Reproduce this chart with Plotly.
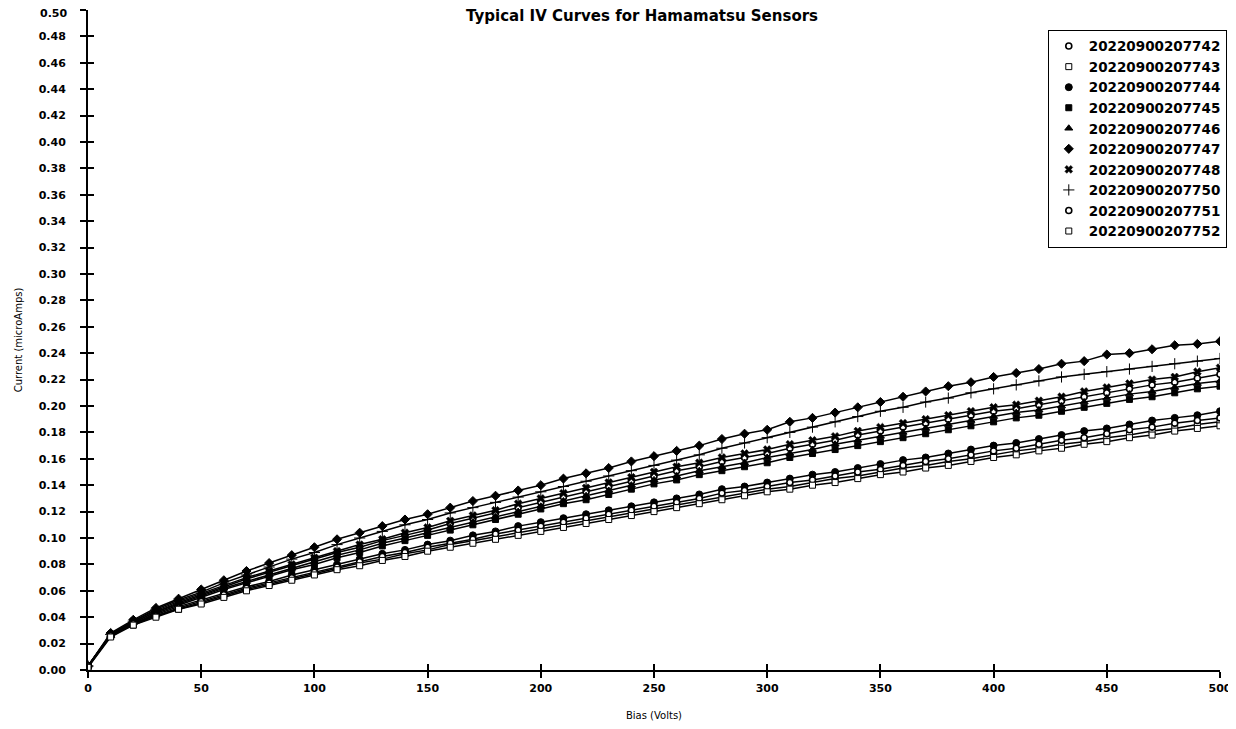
import plotly.graph_objects as go

bias = [0, 10, 20, 30, 40, 50, 60, 70, 80, 90, 100, 110, 120, 130, 140, 150, 160, 170, 180, 190,
        200, 210, 220, 230, 240, 250, 260, 270, 280, 290, 300, 310, 320, 330, 340, 350, 360, 370,
        380, 390, 400, 410, 420, 430, 440, 450, 460, 470, 480, 490, 500]

s742 = [0.003, 0.027, 0.036, 0.044, 0.051, 0.057, 0.063, 0.069, 0.074, 0.079, 0.084, 0.089, 0.093,
        0.098, 0.102, 0.106, 0.111, 0.115, 0.119, 0.123, 0.127, 0.131, 0.135, 0.139, 0.143, 0.147,
        0.151, 0.154, 0.158, 0.161, 0.164, 0.168, 0.171, 0.174, 0.178, 0.181, 0.184, 0.187, 0.190,
        0.193, 0.196, 0.198, 0.201, 0.204, 0.207, 0.210, 0.213, 0.216, 0.218, 0.221, 0.224]
s743 = [0.002, 0.026, 0.034, 0.041, 0.046, 0.051, 0.056, 0.061, 0.065, 0.069, 0.073, 0.077, 0.081,
        0.084, 0.088, 0.091, 0.095, 0.098, 0.101, 0.104, 0.107, 0.110, 0.113, 0.116, 0.119, 0.122,
        0.125, 0.128, 0.131, 0.134, 0.137, 0.139, 0.142, 0.145, 0.147, 0.150, 0.153, 0.155, 0.158,
        0.160, 0.163, 0.166, 0.168, 0.171, 0.173, 0.176, 0.178, 0.181, 0.183, 0.186, 0.188]
s744 = [0.003, 0.026, 0.035, 0.042, 0.048, 0.053, 0.058, 0.063, 0.067, 0.072, 0.076, 0.080, 0.084,
        0.088, 0.091, 0.095, 0.098, 0.102, 0.105, 0.109, 0.112, 0.115, 0.118, 0.121, 0.124, 0.127,
        0.130, 0.133, 0.137, 0.139, 0.142, 0.145, 0.148, 0.150, 0.153, 0.156, 0.159, 0.161, 0.164,
        0.167, 0.170, 0.172, 0.175, 0.178, 0.181, 0.183, 0.186, 0.189, 0.191, 0.193, 0.196]
s745 = [0.003, 0.026, 0.035, 0.043, 0.049, 0.055, 0.061, 0.066, 0.071, 0.076, 0.080, 0.085, 0.089,
        0.094, 0.098, 0.102, 0.106, 0.110, 0.114, 0.118, 0.122, 0.126, 0.129, 0.133, 0.137, 0.141,
        0.144, 0.148, 0.151, 0.154, 0.157, 0.161, 0.164, 0.167, 0.170, 0.173, 0.176, 0.179, 0.182,
        0.185, 0.188, 0.191, 0.193, 0.196, 0.199, 0.202, 0.205, 0.207, 0.210, 0.213, 0.215]
s746 = [0.003, 0.026, 0.036, 0.044, 0.050, 0.056, 0.062, 0.067, 0.072, 0.077, 0.082, 0.087, 0.091,
        0.096, 0.100, 0.104, 0.108, 0.112, 0.116, 0.120, 0.124, 0.128, 0.132, 0.136, 0.140, 0.144,
        0.147, 0.151, 0.154, 0.157, 0.161, 0.164, 0.167, 0.171, 0.174, 0.177, 0.180, 0.183, 0.186,
        0.189, 0.192, 0.195, 0.197, 0.200, 0.203, 0.206, 0.209, 0.211, 0.214, 0.217, 0.219]
s747 = [0.003, 0.028, 0.038, 0.047, 0.054, 0.061, 0.068, 0.075, 0.081, 0.087, 0.093, 0.099, 0.104,
        0.109, 0.114, 0.118, 0.123, 0.128, 0.132, 0.136, 0.140, 0.145, 0.149, 0.153, 0.158, 0.162,
        0.166, 0.170, 0.175, 0.179, 0.182, 0.188, 0.191, 0.195, 0.199, 0.203, 0.207, 0.211, 0.215,
        0.218, 0.222, 0.225, 0.228, 0.232, 0.234, 0.239, 0.240, 0.243, 0.246, 0.247, 0.249]
s748 = [0.003, 0.027, 0.037, 0.045, 0.052, 0.058, 0.064, 0.070, 0.075, 0.080, 0.085, 0.090, 0.095,
        0.099, 0.104, 0.108, 0.113, 0.117, 0.121, 0.126, 0.130, 0.134, 0.138, 0.142, 0.146, 0.150,
        0.154, 0.157, 0.161, 0.164, 0.167, 0.171, 0.174, 0.177, 0.181, 0.184, 0.187, 0.190, 0.193,
        0.196, 0.199, 0.201, 0.204, 0.207, 0.211, 0.214, 0.217, 0.220, 0.222, 0.226, 0.229]
s750 = [0.003, 0.027, 0.037, 0.046, 0.053, 0.059, 0.066, 0.072, 0.078, 0.084, 0.089, 0.095, 0.100,
        0.105, 0.110, 0.114, 0.119, 0.123, 0.127, 0.131, 0.135, 0.139, 0.143, 0.147, 0.151, 0.155,
        0.159, 0.163, 0.168, 0.172, 0.176, 0.180, 0.184, 0.188, 0.192, 0.196, 0.199, 0.203, 0.206,
        0.210, 0.213, 0.216, 0.219, 0.222, 0.224, 0.226, 0.228, 0.230, 0.232, 0.234, 0.236]
s751 = [0.003, 0.026, 0.035, 0.041, 0.047, 0.052, 0.057, 0.062, 0.066, 0.070, 0.074, 0.078, 0.082,
        0.086, 0.089, 0.093, 0.096, 0.099, 0.103, 0.106, 0.109, 0.112, 0.115, 0.118, 0.121, 0.124,
        0.127, 0.130, 0.134, 0.136, 0.139, 0.142, 0.144, 0.147, 0.150, 0.152, 0.155, 0.158, 0.160,
        0.163, 0.166, 0.168, 0.171, 0.174, 0.176, 0.179, 0.182, 0.184, 0.187, 0.189, 0.191]
s752 = [0.002, 0.025, 0.034, 0.040, 0.046, 0.050, 0.055, 0.060, 0.064, 0.068, 0.072, 0.076, 0.079,
        0.083, 0.086, 0.090, 0.093, 0.096, 0.099, 0.102, 0.105, 0.108, 0.111, 0.114, 0.117, 0.120,
        0.123, 0.126, 0.129, 0.132, 0.135, 0.137, 0.140, 0.142, 0.145, 0.148, 0.150, 0.153, 0.155,
        0.158, 0.161, 0.163, 0.166, 0.168, 0.171, 0.173, 0.176, 0.178, 0.181, 0.183, 0.185]

names = ["20220900207742", "20220900207743", "20220900207744", "20220900207745",
         "20220900207746", "20220900207747", "20220900207748", "20220900207750",
         "20220900207751", "20220900207752"]
series = [s742, s743, s744, s745, s746, s747, s748, s750, s751, s752]

xticks = [0, 50, 100, 150, 200, 250, 300, 350, 400, 450, 500]
yticks = [0.00, 0.02, 0.04, 0.06, 0.08, 0.10, 0.12, 0.14, 0.16, 0.18, 0.20, 0.22, 0.24,
          0.26, 0.28, 0.30, 0.32, 0.34, 0.36, 0.38, 0.40, 0.42, 0.44, 0.46, 0.48, 0.50]

# marker styles: (symbol, fill colour, outline width, size)
styles = [
    ("circle", "white", 1.6, 6),
    ("square", "white", 1.0, 6),
    ("circle", "black", 1.0, 7),
    ("square", "black", 1.0, 6),
    ("triangle-up", "black", 1.0, 7),
    ("diamond", "black", 1.0, 7),
    ("x", "black", 0.5, 7),
    ("cross-thin", "black", 1.0, 8),
    ("circle", "white", 1.6, 6),
    ("square", "white", 1.0, 6),
]

fig = go.Figure()
for name, ys, (sym, fill, lw, sz) in zip(names, series, styles):
    marker = dict(symbol=sym, color=fill, size=sz, line=dict(color="black", width=lw))
    fig.add_trace(go.Scatter(x=bias, y=ys, mode="lines+markers", name=name,
                             line=dict(color="black", width=1.5), marker=marker,
                             showlegend=False))
    fig.add_trace(go.Scatter(x=[None], y=[None], mode="markers", name=name,
                             marker=marker, showlegend=True))

# empty trace so the inner tick axes are drawn
fig.add_trace(go.Scatter(x=[None], y=[None], xaxis="x2", yaxis="y2", mode="markers",
                         showlegend=False, hoverinfo="skip"))

tickfont = dict(family="DejaVu Sans", size=11, color="black", weight="bold")

# the top label sits at the very edge of the page; draw it as a slightly nudged annotation
ytext = ["%.2f" % v for v in yticks]
top_label = ytext[-1]
ytext[-1] = ""

fig.update_layout(
    width=1236, height=729,
    margin=dict(l=80, r=24, t=2, b=67, autoexpand=False),
    paper_bgcolor="white", plot_bgcolor="white",
    title=dict(text="Typical IV Curves for Hamamatsu Sensors", x=0.513, xanchor="center",
               y=0.990, yanchor="middle", automargin=False,
               font=dict(family="DejaVu Sans", size=15, color="black", weight="bold")),
    xaxis=dict(range=[0, 500], tickvals=xticks, showgrid=False, zeroline=False,
               showline=True, linecolor="black", linewidth=2, ticks="outside",
               ticklen=6, tickwidth=1.5, tickcolor="black", tickfont=tickfont,
               ticklabelstandoff=1, automargin=False, ticklabeloverflow="allow",
               title=dict(text="Bias (Volts)", standoff=18,
                          font=dict(family="DejaVu Sans", size=10, color="black"))),
    yaxis=dict(range=[0, 0.5], tickvals=yticks, ticktext=ytext, showgrid=False,
               zeroline=False, showline=True, linecolor="black", linewidth=2,
               ticks="outside", ticklen=6, tickwidth=1.5, tickcolor="black",
               tickfont=tickfont, ticklabelstandoff=12, automargin=False,
               ticklabeloverflow="allow",
               title=dict(text="Current (microAmps)", standoff=14,
                          font=dict(family="DejaVu Sans", size=10, color="black"))),
    xaxis2=dict(range=[0, 500], tickvals=xticks, overlaying="x", showgrid=False,
                zeroline=False, showline=False, ticks="inside", ticklen=6, tickwidth=1.5,
                tickcolor="black", showticklabels=False, automargin=False),
    yaxis2=dict(range=[0, 0.5], tickvals=yticks, overlaying="y", showgrid=False,
                zeroline=False, showline=False, ticks="inside", ticklen=6, tickwidth=1.5,
                tickcolor="black", showticklabels=False, automargin=False),
    legend=dict(x=1.006, xanchor="right", y=0.970, yanchor="top",
                bordercolor="black", borderwidth=1, bgcolor="white",
                font=dict(family="DejaVu Sans", size=13.5, color="black", weight="bold"),
                itemwidth=30, tracegroupgap=0),
    showlegend=True,
    annotations=[dict(text=top_label, xref="paper", yref="y", x=0, y=yticks[-1],
                      xanchor="right", yanchor="middle", xshift=-19, yshift=-3,
                      showarrow=False, font=tickfont)],
)

fig.write_html("out.html")
